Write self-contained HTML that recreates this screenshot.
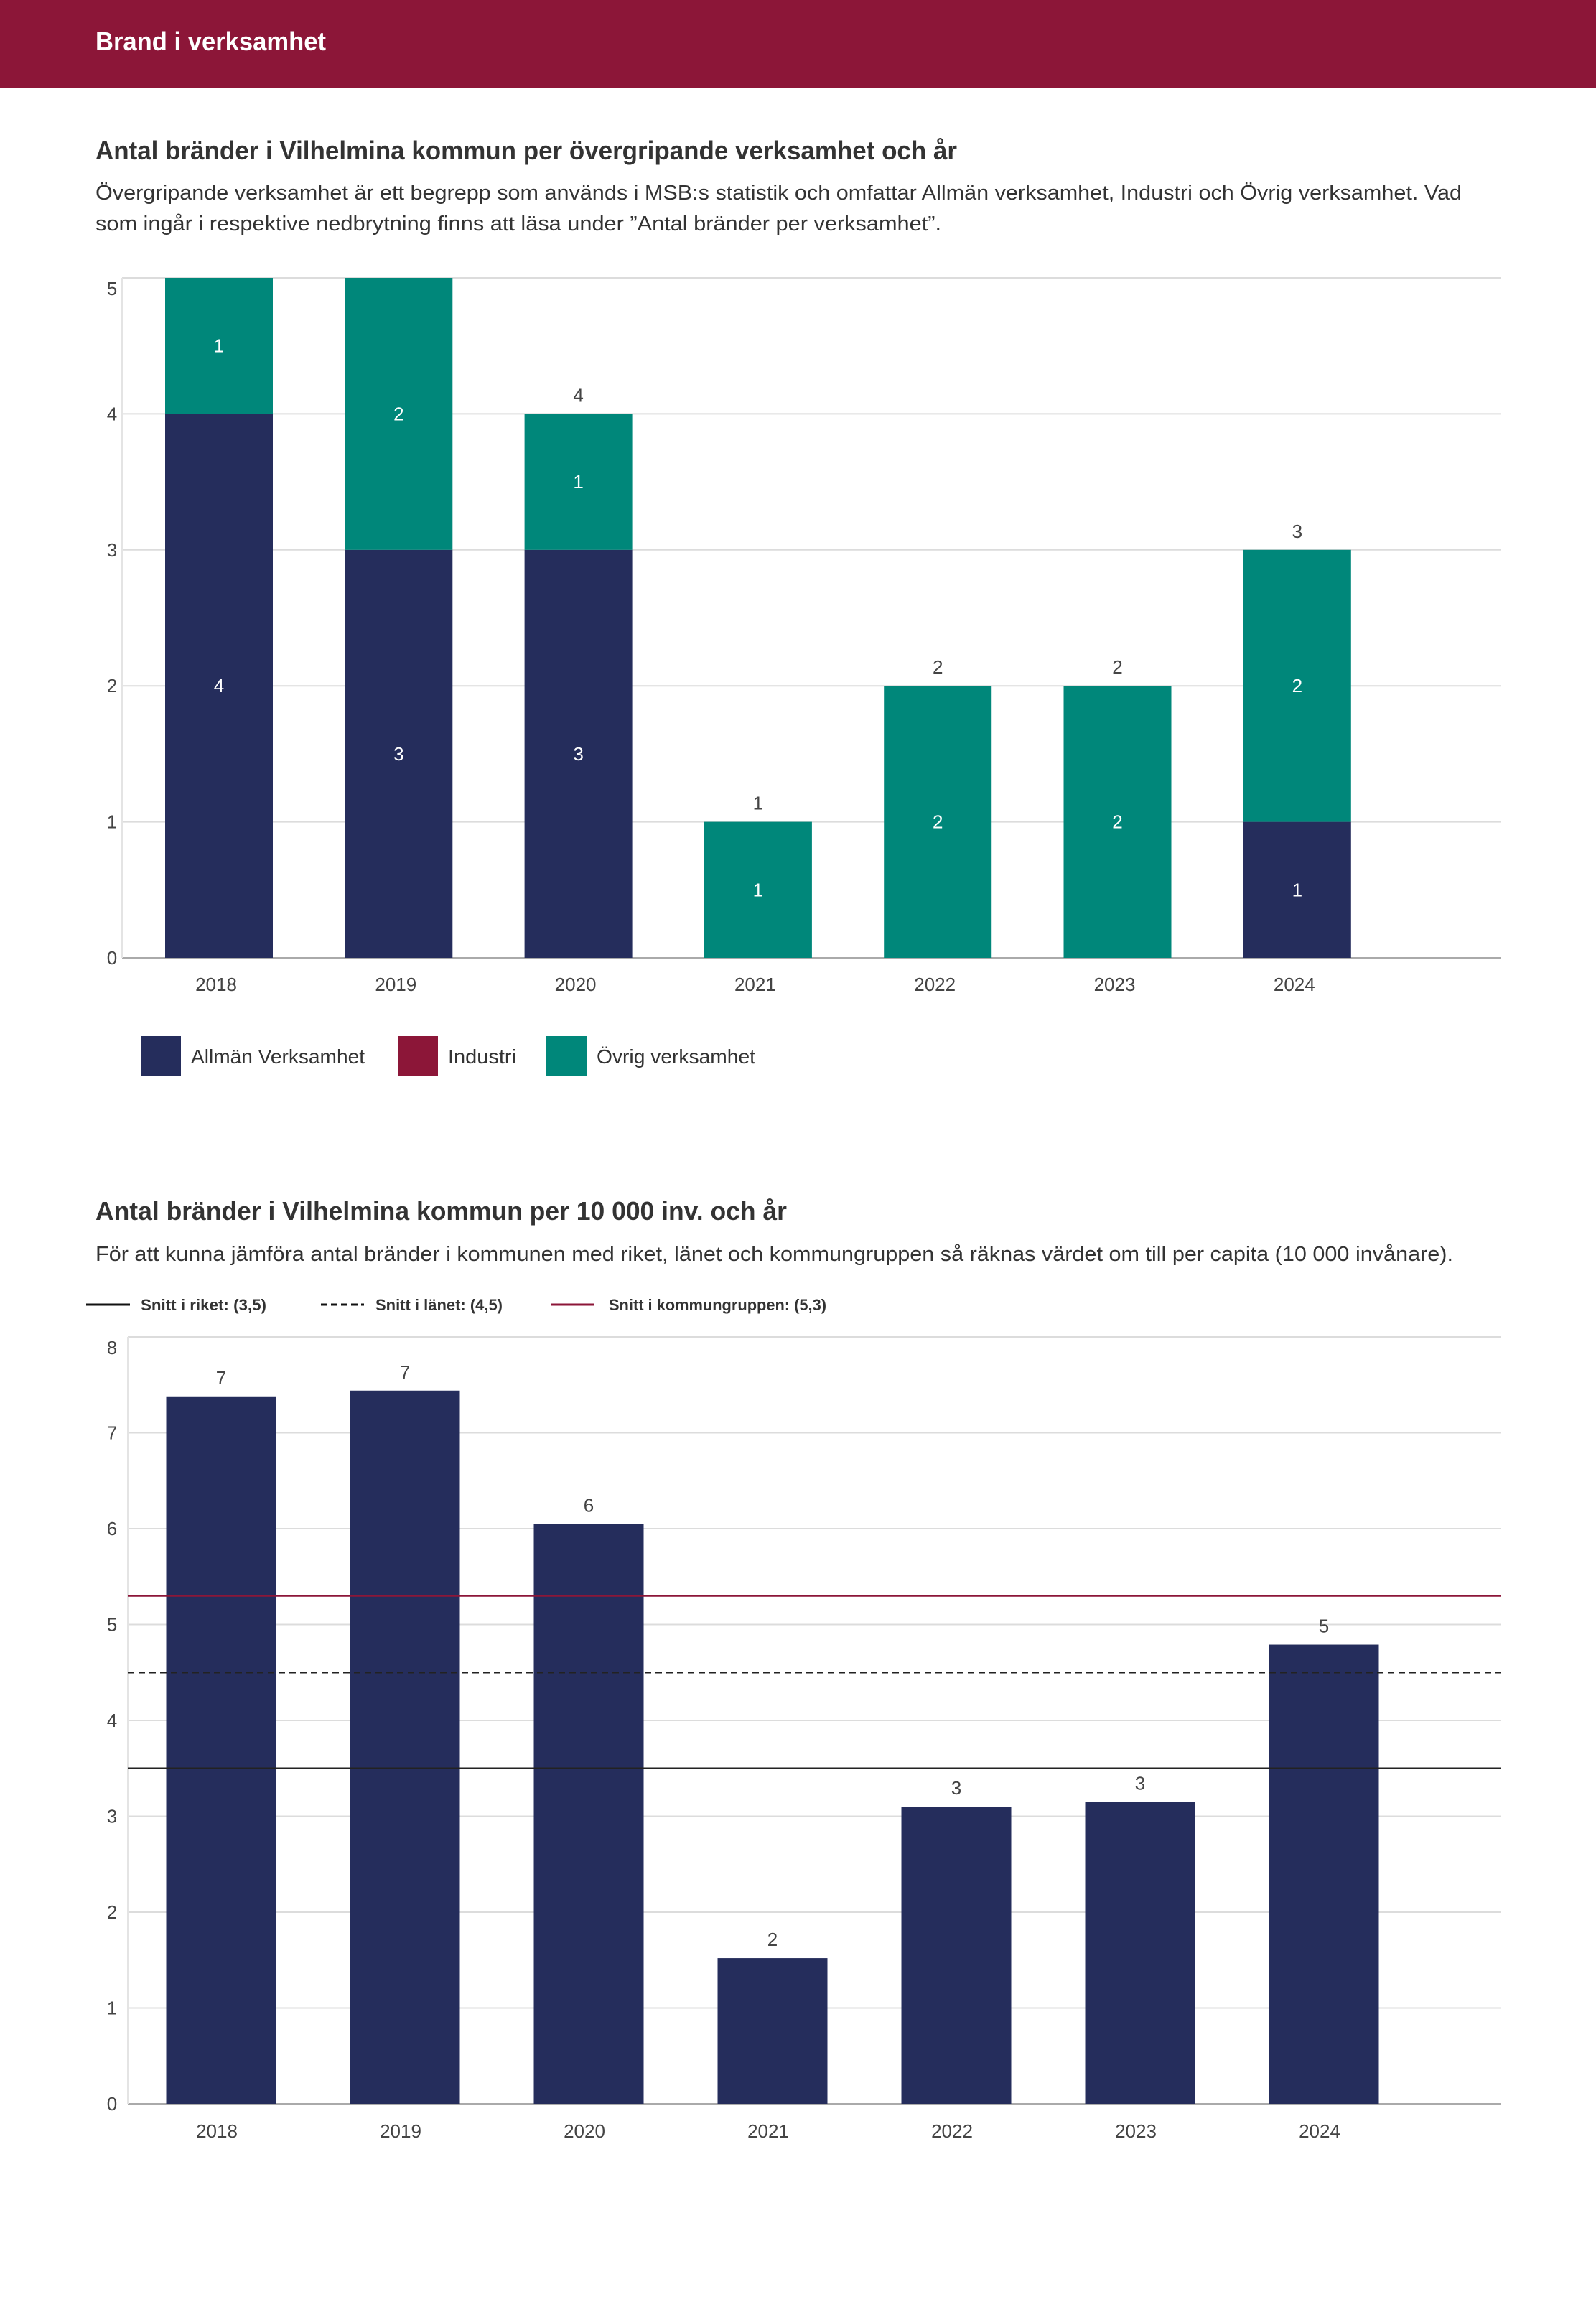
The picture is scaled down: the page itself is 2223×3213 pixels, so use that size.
<!DOCTYPE html>
<html><head><meta charset="utf-8"><style>
html,body{margin:0;padding:0;background:#fff;}
svg{display:block;font-family:"Liberation Sans",sans-serif;}
</style></head><body>
<svg id="page" width="2223" height="3213" viewBox="0 0 2223 3213" xmlns="http://www.w3.org/2000/svg">
<rect x="0" y="0" width="2223" height="122" fill="#8c1638"/>
<text x="133" y="70" font-size="36" font-weight="bold" fill="#fff" textLength="321" lengthAdjust="spacingAndGlyphs">Brand i verksamhet</text>

<text x="133" y="222" font-size="36" font-weight="bold" fill="#333" textLength="1200" lengthAdjust="spacingAndGlyphs">Antal bränder i Vilhelmina kommun per övergripande verksamhet och år</text>
<text x="133" y="278" font-size="29" fill="#333" textLength="1903" lengthAdjust="spacingAndGlyphs">Övergripande verksamhet är ett begrepp som används i MSB:s statistik och omfattar Allmän verksamhet, Industri och Övrig verksamhet. Vad</text>
<text x="133" y="321" font-size="29" fill="#333" textLength="1178" lengthAdjust="spacingAndGlyphs">som ingår i respektive nedbrytning finns att läsa under ”Antal bränder per verksamhet”.</text>
<g id="chart1"></g>
<g>
<rect x="196" y="1443" width="56" height="56" fill="#252d5c"/>
<text x="266" y="1481" font-size="28" fill="#333" textLength="242" lengthAdjust="spacingAndGlyphs">Allmän Verksamhet</text>
<rect x="554" y="1443" width="56" height="56" fill="#8c1638"/>
<text x="624" y="1481" font-size="28" fill="#333" textLength="95" lengthAdjust="spacingAndGlyphs">Industri</text>
<rect x="761" y="1443" width="56" height="56" fill="#00877a"/>
<text x="831" y="1481" font-size="28" fill="#333" textLength="221" lengthAdjust="spacingAndGlyphs">Övrig verksamhet</text>
</g>

<text x="133" y="1699" font-size="36" font-weight="bold" fill="#333" textLength="963" lengthAdjust="spacingAndGlyphs">Antal bränder i Vilhelmina kommun per 10 000 inv. och år</text>
<text x="133" y="1756" font-size="29" fill="#333" textLength="1891" lengthAdjust="spacingAndGlyphs">För att kunna jämföra antal bränder i kommunen med riket, länet och kommungruppen så räknas värdet om till per capita (10 000 invånare).</text>
<g>
<line x1="120" y1="1817" x2="181" y2="1817" stroke="#111" stroke-width="3"/>
<text x="196" y="1825" font-size="22" font-weight="bold" fill="#333" textLength="175" lengthAdjust="spacingAndGlyphs">Snitt i riket: (3,5)</text>
<line x1="447" y1="1817" x2="507" y2="1817" stroke="#111" stroke-width="3" stroke-dasharray="9,5"/>
<text x="523" y="1825" font-size="22" font-weight="bold" fill="#333" textLength="177" lengthAdjust="spacingAndGlyphs">Snitt i länet: (4,5)</text>
<line x1="767" y1="1817" x2="828" y2="1817" stroke="#8c1638" stroke-width="3"/>
<text x="848" y="1825" font-size="22" font-weight="bold" fill="#333" textLength="303" lengthAdjust="spacingAndGlyphs">Snitt i kommungruppen: (5,3)</text>
</g>
<g id="chart2"></g>
</svg>
<script>
const years = ["2018","2019","2020","2021","2022","2023","2024"];
const allman = [4,3,3,0,0,0,1];
const industri = [0,0,0,0,0,0,0];
const ovrig = [1,2,1,1,2,2,2];
const ticks1 = [0,1,2,3,4,5];

const perCapita = [7.38,7.44,6.05,1.52,3.10,3.15,4.79];
const ticks2 = [0,1,2,3,4,5,6,7,8];
const refRiket = [3.5];
const refLanet = [4.5];
const refKommungrupp = [5.3];

const NS = "http://www.w3.org/2000/svg";
function mk(parent, tag, attrs, txt){
  const e = document.createElementNS(NS, tag);
  for (const k in attrs) e.setAttribute(k, attrs[k]);
  if (txt !== undefined) e.textContent = txt;
  parent.appendChild(e);
  return e;
}

// Chart 1
(function(){
  const g = document.getElementById('chart1');
  const y0 = 1334, yTop = 387, yMax = 5, left = 170, right = 2090;
  const y = v => y0 - (v / yMax) * (y0 - yTop);
  const xc = i => 305 + i * 250.3;
  const bw = 150;
  ticks1.forEach(t => {
    const ln = mk(g, 'line', {x1:left, x2:right, y1:y(t), y2:y(t), stroke: t===0 ? '#aaa' : '#dcdcdc', 'stroke-width': 2});
    
    
    const tx = mk(g, 'text', {x:156, y:y(t) + 9 + (t===yMax ? 15 : 0), 'font-size':26, fill:'#444', 'text-anchor':'middle'}, String(t));
    
    
  });
  const ax = mk(g, 'line', {x1:left, x2:left, y1:yTop, y2:y0, stroke:'#e4e4e4', 'stroke-width':2});
  
  
  years.forEach((yr, i) => {
    const series = [[allman[i], '#252d5c', 'allman'], [industri[i], '#8c1638', 'industri'], [ovrig[i], '#00877a', 'ovrig']];
    let base = 0;
    series.forEach(([v, col, nm]) => {
      if (v > 0) {
        const r = mk(g, 'rect', {x:xc(i) - bw/2, y:y(base + v), width:bw, height:y(base) - y(base + v), fill:col});
        
        
        const lb = mk(g, 'text', {x:xc(i), y:y(base + v/2) + 9, 'font-size':26, fill:'#fff', 'text-anchor':'middle'}, String(v));
        
        
      }
      base += v;
    });
    if (base < yMax) {
      const tl = mk(g, 'text', {x:xc(i), y:y(base) - 17, 'font-size':26, fill:'#444', 'text-anchor':'middle'}, String(base));
      
      
    }
    const xl = mk(g, 'text', {x:xc(i) - 4, y:1380, 'font-size':26, fill:'#444', 'text-anchor':'middle'}, yr);
    
    
  });
})();

// Chart 2
(function(){
  const g = document.getElementById('chart2');
  const y0 = 2930, yTop = 1862, yMax = 8, left = 178, right = 2090;
  const y = v => y0 - (v / yMax) * (y0 - yTop);
  const xc = i => 308 + i * 256;
  const bw = 153;
  ticks2.forEach(t => {
    const ln = mk(g, 'line', {x1:left, x2:right, y1:y(t), y2:y(t), stroke: t===0 ? '#aaa' : '#dcdcdc', 'stroke-width': 2});
    
    
    const tx = mk(g, 'text', {x:156, y:y(t) + 9 + (t===yMax ? 15 : 0), 'font-size':26, fill:'#444', 'text-anchor':'middle'}, String(t));
    
    
  });
  const ax = mk(g, 'line', {x1:left, x2:left, y1:yTop, y2:y0, stroke:'#e4e4e4', 'stroke-width':2});
  
  
  years.forEach((yr, i) => {
    const v = perCapita[i];
    const r = mk(g, 'rect', {x:xc(i) - bw/2, y:y(v), width:bw, height:y0 - y(v), fill:'#252d5c'});
    
    
    const lb = mk(g, 'text', {x:xc(i), y:y(v) - 17, 'font-size':26, fill:'#444', 'text-anchor':'middle'}, String(Math.round(v)));
    
    
    const xl = mk(g, 'text', {x:xc(i) - 6, y:2977, 'font-size':26, fill:'#444', 'text-anchor':'middle'}, yr);
    
    
  });
  const l1 = mk(g, 'line', {x1:left, x2:right, y1:y(refRiket[0]), y2:y(refRiket[0]), stroke:'#222', 'stroke-width':2.5});
  
  
  const l2 = mk(g, 'line', {x1:left, x2:right, y1:y(refLanet[0]), y2:y(refLanet[0]), stroke:'#222', 'stroke-width':2.5, 'stroke-dasharray':'9,6'});
  
  
  const l3 = mk(g, 'line', {x1:left, x2:right, y1:y(refKommungrupp[0]), y2:y(refKommungrupp[0]), stroke:'#8c1638', 'stroke-width':2.5});
  
  
})();
</script>
</body></html>
